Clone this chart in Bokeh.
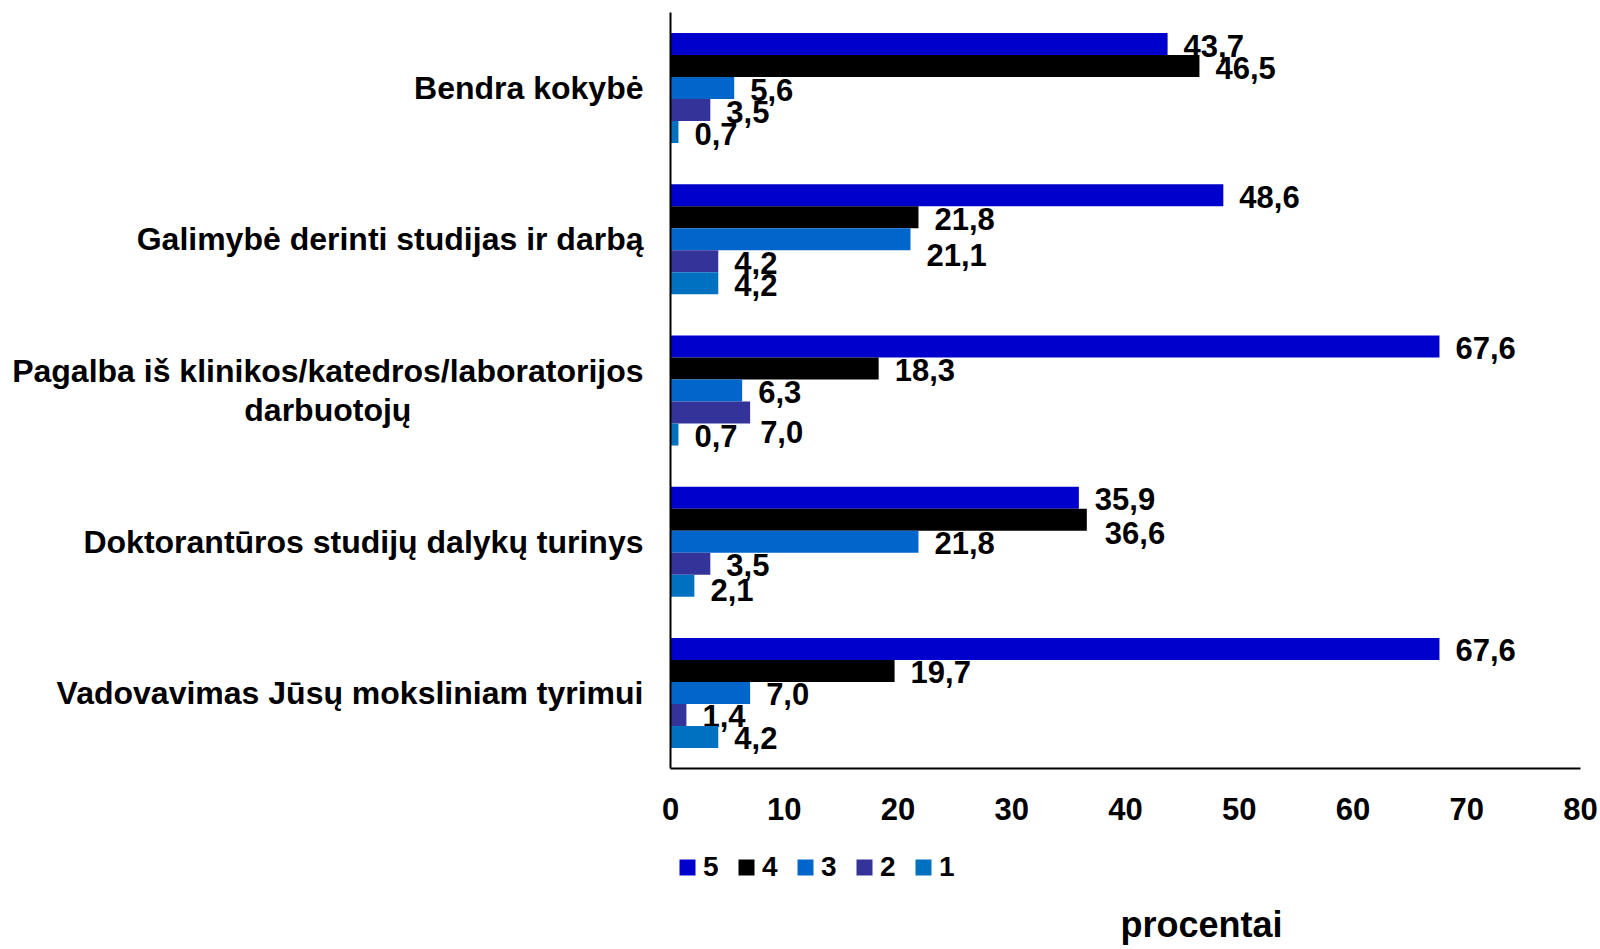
from bokeh.plotting import figure
from bokeh.layouts import row, column
from bokeh.models import Range1d, FixedTicker, Legend, LegendItem, ColumnDataSource
from bokeh.core.properties import value
from bokeh.embed import file_html
from bokeh.resources import INLINE

# ---- data ----
categories = [
    "Bendra kokybė",
    "Galimybė derinti studijas ir darbą",
    "Pagalba iš klinikos/katedros/laboratorijos\ndarbuotojų",
    "Doktorantūros studijų dalykų turinys",
    "Vadovavimas Jūsų moksliniam tyrimui",
]
series_names = ["5", "4", "3", "2", "1"]
s5 = [43.7, 48.6, 67.6, 35.9, 67.6]
s4 = [46.5, 21.8, 18.3, 36.6, 19.7]
s3 = [5.6, 21.1, 6.3, 21.8, 7.0]
s2 = [3.5, 4.2, 7.0, 3.5, 1.4]
s1 = [0.7, 4.2, 0.7, 2.1, 4.2]
x_ticks = [0, 10, 20, 30, 40, 50, 60, 70, 80]
x_title = "procentai"

series_values = [s5, s4, s3, s2, s1]
colors = ["#0000CC", "#000000", "#0066CC", "#333399", "#0070C0"]

# label nudges (screen px) for labels moved by hand in the original: (category, series) -> (dx, dy)
label_nudge = {(1, 2): (0, 14), (2, 3): (-6, 18), (3, 1): (2, 12), (3, 4): (0, 3)}

FONT = "Liberation Sans"
TOTAL_W, TOTAL_H = 1600, 949
LEFT_W = 660            # width of the category-label strip
MAIN_W = TOTAL_W - LEFT_W
TOP_H = 830             # height of the chart row
BOTTOM_H = TOTAL_H - TOP_H
BORDER_TOP, BORDER_BOTTOM = 12, 62

n_cat = len(categories)
y_range = Range1d(0, n_cat)
bar_h = 22.0 / 151.2  # bar thickness in category units

# ---- main chart ----
p = figure(width=MAIN_W, height=TOP_H, output_backend="svg", toolbar_location=None,
           x_range=Range1d(0, 80), y_range=y_range,
           min_border_left=10, min_border_right=20,
           min_border_top=BORDER_TOP, min_border_bottom=BORDER_BOTTOM)
p.outline_line_color = None
p.xgrid.visible = False
p.ygrid.visible = False

for j, (name, vals, col) in enumerate(zip(series_names, series_values, colors)):
    ys = [(n_cat - 0.5 - i) + (2 - j) * bar_h for i in range(n_cat)]
    dx = [label_nudge.get((i, j), (0, 0))[0] for i in range(n_cat)]
    dy = [label_nudge.get((i, j), (0, 0))[1] for i in range(n_cat)]
    src = ColumnDataSource(dict(
        y=ys, v=vals,
        lab=[f"{v:.1f}".replace(".", ",") for v in vals],
        dx=[16 + d for d in dx], dy=[1.5 + d for d in dy],
    ))
    p.hbar(y="y", right="v", left=0, height=bar_h, source=src,
           fill_color=col, line_color=None)
    p.text(x="v", y="y", text="lab", source=src, x_offset="dx", y_offset="dy",
           text_font=value(FONT), text_font_style="bold", text_font_size="31px",
           text_color="black", text_align="left", text_baseline="middle")

p.xaxis.ticker = FixedTicker(ticks=x_ticks)
p.xaxis.axis_line_width = 2
p.xaxis.axis_line_color = "black"
p.xaxis.major_tick_out = 0
p.xaxis.major_tick_in = 0
p.xaxis.minor_tick_out = 0
p.xaxis.minor_tick_in = 0
p.xaxis.major_label_standoff = 29
p.xaxis.major_label_text_font = FONT
p.xaxis.major_label_text_font_style = "bold"
p.xaxis.major_label_text_font_size = "31px"
p.xaxis.major_label_text_color = "black"

p.yaxis.ticker = FixedTicker(ticks=[])
p.yaxis.axis_line_width = 2
p.yaxis.axis_line_color = "black"
p.yaxis.major_tick_out = 0
p.yaxis.minor_tick_out = 0
p.yaxis.major_tick_in = 0
p.yaxis.minor_tick_in = 0
p.yaxis.major_label_standoff = 0

# ---- category labels strip (shares the y scale) ----
left = figure(width=LEFT_W, height=TOP_H, output_backend="svg", toolbar_location=None,
              x_range=Range1d(0, LEFT_W), y_range=y_range,
              x_axis_type=None, y_axis_type=None,
              min_border_left=0, min_border_right=0,
              min_border_top=BORDER_TOP, min_border_bottom=BORDER_BOTTOM)
left.outline_line_color = None
left.xgrid.visible = False
left.ygrid.visible = False
cat_src = ColumnDataSource(dict(
    x=[LEFT_W - 17] * n_cat,
    y=[n_cat - 0.5 - i for i in range(n_cat)],
    t=categories,
))
left.text(x="x", y="y", text="t", source=cat_src, anchor="center_right",
          text_align="center", text_baseline="middle", text_line_height=1.1,
          text_font=value(FONT), text_font_style="bold", text_font_size="32px",
          text_color="black")

# ---- legend + axis title strip ----
bottom = figure(width=TOTAL_W, height=BOTTOM_H, output_backend="svg", toolbar_location=None,
                x_range=Range1d(0, TOTAL_W), y_range=Range1d(0, BOTTOM_H),
                x_axis_type=None, y_axis_type=None,
                min_border_left=0, min_border_right=0, min_border_top=0, min_border_bottom=0)
bottom.outline_line_color = None
bottom.xgrid.visible = False
bottom.ygrid.visible = False
items = []
nan = float("nan")
for name, col in zip(series_names, colors):
    # legend swatch only: a single undrawn (NaN) row so the swatch gets its fill
    r = bottom.hbar(y=[nan], right=[nan], left=0, height=1, fill_color=col, line_color=None)
    items.append(LegendItem(label=name, renderers=[r]))
legend = Legend(items=items, orientation="horizontal", location=(677, 66),
                glyph_width=20, glyph_height=20, label_standoff=6, spacing=13,
                padding=0, margin=0, label_width=20, label_height=20,
                label_text_font=FONT, label_text_font_style="bold",
                label_text_font_size="28px", label_text_color="black",
                border_line_color=None, background_fill_alpha=0)
bottom.add_layout(legend, "center")
bottom.text(x=[1201], y=[25], text=[x_title], text_font=value(FONT),
            text_font_style="bold", text_font_size="36px", text_color="black",
            text_align="center", text_baseline="middle")

layout = column(row(left, p, spacing=0), bottom, spacing=0)
open("out.html", "w").write(file_html(layout, INLINE))
